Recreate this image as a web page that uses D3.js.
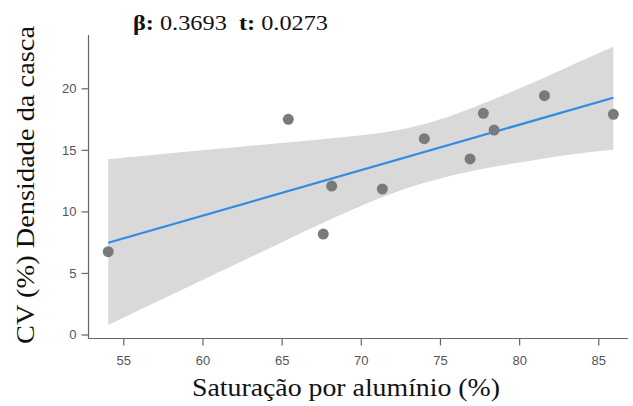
<!DOCTYPE html>
<html>
<head>
<meta charset="utf-8">
<script src="https://cdn.jsdelivr.net/npm/d3@7"></script>
<style>
  html, body { margin: 0; padding: 0; background: #fff; }
  svg { display: block; }
</style>
</head>
<body>
<svg id="chart" width="633" height="406"></svg>
<script>
// Saturação por alumínio (%) vs CV (%) da densidade da casca
const satAl  = [54.05, 65.42, 67.63, 68.16, 71.36, 74.01, 76.90, 77.74, 78.42, 81.60, 85.95];
const cvDens = [6.73, 17.48, 8.16, 12.06, 11.82, 15.91, 14.26, 17.97, 16.61, 19.40, 17.89];

// regression statistics shown in the header
const beta = 0.3693;
const tStat = 0.0273;

// confidence band edges along the fitted line
const bandX  = [54.05, 60, 65, 68, 71, 73, 75, 78, 81, 84, 85.95];
const bandLo = [0.77, 4.42, 7.48, 9.32, 11.0, 11.95, 12.7, 13.55, 14.2, 14.75, 15.0];
const bandHi = [14.24, 14.96, 15.56, 15.93, 16.3, 16.75, 17.4, 18.9, 20.5, 22.3, 23.38];

const xTicks = [55, 60, 65, 70, 75, 80, 85];
const yTicks = [0, 5, 10, 15, 20];

const svg = d3.select("#chart");

const x = d3.scaleLinear().domain([55, 85]).range([123.3, 598.3]);
const y = d3.scaleLinear().domain([0, 20]).range([334.5, 88.3]);

const axisColor = "#666";
const tickText = "#555";

// band
const bandData = bandX.map((v, i) => ({ x: v, lo: bandLo[i], hi: bandHi[i] }));
svg.append("path")
  .datum(bandData)
  .attr("fill", "#d9d9d9")
  .attr("d", d3.area()
    .x(d => x(d.x))
    .y0(d => y(d.lo))
    .y1(d => y(d.hi))
    .curve(d3.curveBasis));

// fitted line with slope beta through the data centroid
const mx = d3.mean(satAl), my = d3.mean(cvDens);
const x0 = d3.min(satAl), x1 = d3.max(satAl);
const fit = [x0, x1].map(v => ({ x: v, y: my + beta * (v - mx) }));
svg.append("path")
  .datum(fit)
  .attr("fill", "none")
  .attr("stroke", "#2f8be3")
  .attr("stroke-width", 2.2)
  .attr("d", d3.line().x(d => x(d.x)).y(d => y(d.y)));

// points
svg.append("g")
  .selectAll("circle")
  .data(satAl.map((v, i) => [v, cvDens[i]]))
  .join("circle")
  .attr("cx", d => x(d[0]))
  .attr("cy", d => y(d[1]))
  .attr("r", 5.5)
  .attr("fill", "#7a7a7a");

// y axis
const yAxisX = 88.5;
const gy = svg.append("g")
  .attr("transform", `translate(${yAxisX},0)`)
  .call(d3.axisLeft(y).tickValues(yTicks).tickSize(7).tickPadding(5).tickSizeOuter(0));
gy.select(".domain").remove();
gy.append("line")
  .attr("x1", 0).attr("x2", 0)
  .attr("y1", 35).attr("y2", 338.5)
  .attr("stroke", axisColor).attr("stroke-width", 1.2);

// x axis
const xAxisY = 338.5;
const gx = svg.append("g")
  .attr("transform", `translate(0,${xAxisY})`)
  .call(d3.axisBottom(x).tickValues(xTicks).tickSize(7).tickPadding(10).tickSizeOuter(0));
gx.select(".domain").remove();
gx.append("line")
  .attr("x1", yAxisX).attr("x2", 628)
  .attr("y1", 0).attr("y2", 0)
  .attr("stroke", axisColor).attr("stroke-width", 1.2);

[gx, gy].forEach(g => {
  g.selectAll(".tick line").attr("stroke", axisColor).attr("stroke-width", 1.2);
  g.selectAll(".tick text")
    .attr("fill", tickText)
    .style("font-family", "'Liberation Sans', Arial, sans-serif")
    .style("font-size", "13px");
});

// axis titles
const serif = "'Liberation Serif', 'Times New Roman', serif";
svg.append("text")
  .attr("x", 346).attr("y", 396)
  .attr("text-anchor", "middle")
  .attr("textLength", 308)
  .attr("lengthAdjust", "spacingAndGlyphs")
  .style("font-family", serif)
  .style("font-size", "26px")
  .attr("fill", "#111")
  .text("Saturação por alumínio (%)");

svg.append("text")
  .attr("transform", "translate(34,185) rotate(-90)")
  .attr("text-anchor", "middle")
  .attr("textLength", 318)
  .attr("lengthAdjust", "spacingAndGlyphs")
  .style("font-family", serif)
  .style("font-size", "26px")
  .attr("fill", "#111")
  .text("CV (%) Densidade da casca");

// header with regression statistics
const head = svg.append("text")
  .attr("x", 133).attr("y", 30)
  .attr("textLength", 195)
  .attr("lengthAdjust", "spacingAndGlyphs")
  .style("font-family", serif)
  .style("font-size", "22px")
  .attr("fill", "#111")
  .attr("xml:space", "preserve");
head.append("tspan").style("font-weight", "bold").text("β:");
head.append("tspan").text(" " + beta.toFixed(4) + "  ");
head.append("tspan").style("font-weight", "bold").text("t:");
head.append("tspan").text(" " + tStat.toFixed(4));
</script>
</body>
</html>
